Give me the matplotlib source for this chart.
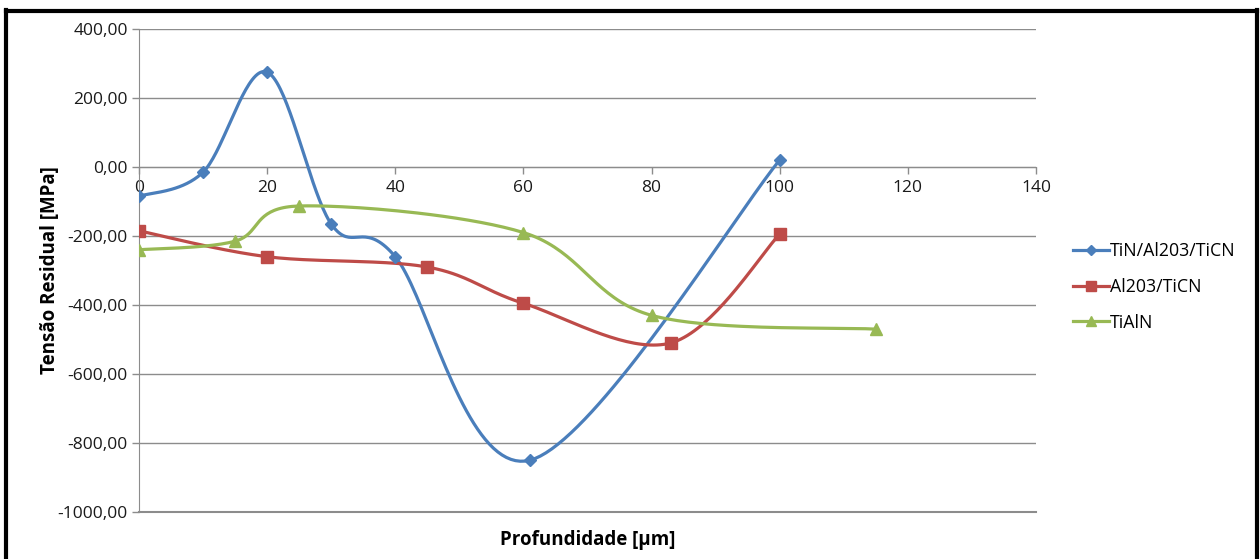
import numpy as np
import matplotlib
matplotlib.use("Agg")
import matplotlib.pyplot as plt
from matplotlib.lines import Line2D
from matplotlib.ticker import FuncFormatter, MultipleLocator

plt.rcParams['font.family'] = ['Open Sans', 'DejaVu Sans']

# Residual stress profiles (depth in µm, stress in MPa)
tin_depth = [0, 10, 20, 30, 40, 61, 100]
tin_stress = [-85, -15, 275, -165, -260, -850, 20]

al_depth = [0, 20, 45, 60, 83, 100]
al_stress = [-185, -260, -290, -395, -510, -195]

tialn_depth = [0, 15, 25, 60, 80, 115]
tialn_stress = [-240, -215, -113, -190, -430, -470]

labels = ["TiN/Al203/TiCN", "Al203/TiCN", "TiAlN"]
colors = ["#4A7EBB", "#BE4B48", "#98B954"]
markers = ["D", "s", "^"]
msizes = [6.5, 8.5, 8.5]


def smooth(xs, ys, n=40):
    """Cubic Bezier smoothing with Catmull-Rom control points."""
    p = np.column_stack([xs, ys]).astype(float)
    ext = np.vstack([p[0], p, p[-1]])
    out = []
    t = np.linspace(0, 1, n)[:, None]
    for i in range(1, len(ext) - 2):
        p0, p1, p2, p3 = ext[i - 1], ext[i], ext[i + 1], ext[i + 2]
        c1 = p1 + (p2 - p0) / 6.0
        c2 = p2 - (p3 - p1) / 6.0
        seg = ((1 - t) ** 3) * p1 + 3 * ((1 - t) ** 2) * t * c1 \
            + 3 * (1 - t) * t ** 2 * c2 + t ** 3 * p2
        out.append(seg if i == 1 else seg[1:])
    seg = np.vstack(out)
    return seg[:, 0], seg[:, 1]


fig = plt.figure(figsize=(12.6, 5.59), dpi=100)
ax = fig.add_axes([0.1103, 0.0841, 0.7119, 0.8640])

series = [(tin_depth, tin_stress), (al_depth, al_stress), (tialn_depth, tialn_stress)]
for (xs, ys), c, m, ms in zip(series, colors, markers, msizes):
    sx, sy = smooth(xs, ys)
    ax.plot(sx, sy, color=c, lw=2.3, zorder=3, solid_capstyle='round')
    ax.plot(xs, ys, ls='none', marker=m, color=c, ms=ms, zorder=4)

ax.set_xlim(0, 140)
ax.set_ylim(-1000, 400)
ax.xaxis.set_major_locator(MultipleLocator(20))
ax.yaxis.set_major_locator(MultipleLocator(200))
ax.yaxis.set_major_formatter(FuncFormatter(lambda v, _: f"{v:.2f}".replace('.', ',')))

grid_c = "#8C8C8C"
ax.grid(axis='y', color=grid_c, lw=1.0, zorder=0)
ax.axhline(-1000, color=grid_c, lw=1.5, zorder=0, clip_on=False)
for s in ['top', 'right']:
    ax.spines[s].set_visible(False)
ax.spines['bottom'].set_position(('data', 0))
ax.spines['bottom'].set_color(grid_c)
ax.spines['left'].set_color(grid_c)
ax.spines['bottom'].set_zorder(1)
ax.tick_params(axis='both', colors=grid_c, length=5, width=1, labelsize=12.5,
               labelcolor='#1A1A1A')
ax.tick_params(axis='x', direction='out', pad=4)
ax.tick_params(axis='y', pad=3)

ax.set_ylabel("Tensão Residual [MPa]", fontsize=13.5, fontweight='bold')
ax.yaxis.set_label_coords(-0.088, 0.5)
ax.set_xlabel("Profundidade [µm]", fontsize=13.5, fontweight='bold')
ax.xaxis.set_label_coords(0.5, -0.038)

handles = [Line2D([], [], color=c, lw=2.3, marker=m, ms=ms * 0.85)
           for c, m, ms in zip(colors, markers, msizes)]
fig.legend(handles, labels, loc='center left', bbox_to_anchor=(0.839, 0.487),
           frameon=False, fontsize=12.8, handlelength=2.0, handletextpad=0.05,
           labelspacing=1.0)

# outer frame
fig.add_artist(plt.Line2D([0.005, 0.005], [0, 0.982], transform=fig.transFigure,
                          color='black', lw=3))
fig.add_artist(plt.Line2D([0.005, 0.998], [0.980, 0.980], transform=fig.transFigure,
                          color='black', lw=3))
fig.add_artist(plt.Line2D([0.998, 0.998], [0, 0.982], transform=fig.transFigure,
                          color='black', lw=3))

fig.savefig("out.png", dpi=100, facecolor='white')
